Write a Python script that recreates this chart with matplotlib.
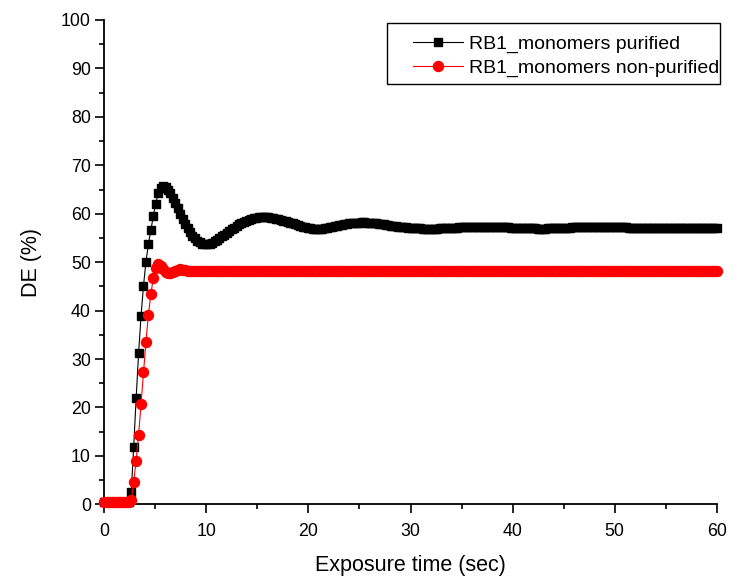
import numpy as np
import matplotlib
matplotlib.use("Agg")
import matplotlib.pyplot as plt
from matplotlib.ticker import MultipleLocator
from matplotlib.patches import Rectangle

plt.rcParams['font.family'] = ['Liberation Sans', 'DejaVu Sans']

time_step = 0.24  # seconds between samples

purified = [
    0.5, 0.5, 0.5, 0.5, 0.5, 0.5, 0.5, 0.5, 0.5, 0.5, 0.5,
    2.6,
    11.9, 21.9, 31.2, 38.9, 45.1, 50.1, 53.7, 56.6, 59.5, 62.1,
    64.2, 65.4, 65.8, 65.6, 65.0, 64.2, 63.3, 62.2, 61.1, 60.0,
    58.9, 57.9, 57.0, 56.2, 55.5, 54.9, 54.4, 54.1, 53.8, 53.7,
    53.7, 53.8, 54.0, 54.3, 54.6, 54.9, 55.3, 55.6, 56.0, 56.4,
    56.8, 57.1, 57.5, 57.8, 58.1, 58.3, 58.6, 58.8, 59.0, 59.1,
    59.2, 59.3, 59.3, 59.4, 59.3, 59.3, 59.2, 59.1, 59.0, 58.9,
    58.8, 58.6, 58.5, 58.3, 58.1, 58.0, 57.8, 57.6, 57.5, 57.3,
    57.2, 57.1, 57.0, 56.9, 56.9, 56.9, 56.9, 56.9, 57.0, 57.1,
    57.2, 57.3, 57.4, 57.5, 57.6, 57.7, 57.8, 57.9, 58.0, 58.0,
    58.1, 58.1, 58.1, 58.2, 58.2, 58.1, 58.1, 58.1, 58.0, 58.0,
    57.9, 57.8, 57.8, 57.7, 57.6, 57.5, 57.5, 57.4, 57.3, 57.3,
    57.2, 57.2, 57.1, 57.1, 57.0, 57.0, 57.0, 57.0, 56.9, 56.9,
    56.9, 56.9, 56.9, 56.9, 56.9, 57.0, 57.0, 57.0, 57.0, 57.1,
    57.1, 57.1, 57.1, 57.2, 57.2, 57.2, 57.2, 57.2, 57.3, 57.3,
    57.3, 57.3, 57.3, 57.3, 57.3, 57.3, 57.3, 57.3, 57.3, 57.2,
    57.2, 57.2, 57.2, 57.2, 57.1, 57.1, 57.1, 57.1, 57.0, 57.0,
    57.0, 57.0, 57.0, 57.0, 57.0, 56.9, 56.9, 56.9, 56.9, 57.0,
    57.0, 57.0, 57.0, 57.0, 57.1, 57.1, 57.1, 57.1, 57.1, 57.2,
    57.2, 57.2, 57.2, 57.2, 57.2, 57.3, 57.3, 57.3, 57.3, 57.3,
    57.3, 57.3, 57.3, 57.3, 57.3, 57.3, 57.2, 57.2, 57.2, 57.2,
    57.2, 57.2, 57.1, 57.1, 57.1, 57.1, 57.1, 57.1, 57.1, 57.1,
    57.1, 57.1, 57.1, 57.1, 57.1, 57.1, 57.1, 57.1, 57.1, 57.1,
    57.1, 57.1, 57.1, 57.1, 57.1, 57.1, 57.1, 57.1, 57.1, 57.1,
    57.1, 57.1, 57.1, 57.1, 57.1, 57.1, 57.1, 57.1, 57.1,
]

non_purified = [
    0.5, 0.5, 0.5, 0.5, 0.5, 0.5, 0.5, 0.5, 0.5, 0.5, 0.5,   # 0-10
    0.9,                                                      # 11
    4.7, 9.0, 14.4, 20.7, 27.3, 33.6, 39.1, 43.4, 46.7, 48.8, # 12-21
    49.6, 49.3, 48.6, 48.0, 47.7, 47.7, 47.9, 48.2, 48.4, 48.5, # 22-31
    48.4, 48.3, 48.2, 48.1, 48.1, 48.2, 48.2, 48.2, 48.2, 48.2, # 32-41
    48.2, 48.2, 48.2, 48.2, 48.2, 48.2, 48.2, 48.2, 48.2, 48.2, # 42-51
    48.2, 48.2, 48.2, 48.2, 48.2, 48.2, 48.2, 48.2, 48.2, 48.2, # 52-61
    48.2, 48.2, 48.2, 48.2, 48.2, 48.2, 48.2, 48.2, 48.2, 48.2, # 62-71
    48.2, 48.2, 48.2, 48.2, 48.2, 48.2, 48.2, 48.2, 48.2, 48.2, # 72-81
    48.2, 48.2, 48.2, 48.2, 48.2, 48.2, 48.2, 48.2, 48.2, 48.2, # 82-91
    48.2, 48.2, 48.2, 48.2, 48.2, 48.2, 48.2, 48.2, 48.2, 48.2, # 92-101
    48.2, 48.2, 48.2, 48.2, 48.2, 48.2, 48.2, 48.2, 48.2, 48.2, # 102-111
    48.2, 48.2, 48.2, 48.2, 48.2, 48.2, 48.2, 48.2, 48.2, 48.2, # 112-121
    48.2, 48.2, 48.2, 48.2, 48.2, 48.2, 48.2, 48.2, 48.2, 48.2, # 122-131
    48.2, 48.2, 48.2, 48.2, 48.2, 48.2, 48.2, 48.2, 48.2, 48.2, # 132-141
    48.2, 48.2, 48.2, 48.2, 48.2, 48.2, 48.2, 48.2, 48.2, 48.2, # 142-151
    48.2, 48.2, 48.2, 48.2, 48.2, 48.2, 48.2, 48.2, 48.2, 48.2, # 152-161
    48.2, 48.2, 48.2, 48.2, 48.2, 48.2, 48.2, 48.2, 48.2, 48.2, # 162-171
    48.2, 48.2, 48.2, 48.2, 48.2, 48.2, 48.2, 48.2, 48.2, 48.2, # 172-181
    48.2, 48.2, 48.2, 48.2, 48.2, 48.2, 48.2, 48.2, 48.2, 48.2, # 182-191
    48.2, 48.2, 48.2, 48.2, 48.2, 48.2, 48.2, 48.2, 48.2, 48.2, # 192-201
    48.2, 48.2, 48.2, 48.2, 48.2, 48.2, 48.2, 48.2, 48.2, 48.2, # 202-211
    48.2, 48.2, 48.2, 48.2, 48.2, 48.2, 48.2, 48.2, 48.2, 48.2, # 212-221
    48.2, 48.2, 48.2, 48.2, 48.2, 48.2, 48.2, 48.2, 48.2, 48.2, # 222-231
    48.2, 48.2, 48.2, 48.2, 48.2, 48.2, 48.2, 48.2, 48.2, 48.2, # 232-241
    48.2, 48.2, 48.2, 48.2, 48.2, 48.2, 48.2, 48.2, 48.2,       # 242-250
]

series_labels = ["RB1_monomers purified", "RB1_monomers non-purified"]
x_label = "Exposure time (sec)"
y_label = "DE (%)"

t_pur = np.arange(len(purified)) * time_step
t_non = np.arange(len(non_purified)) * time_step

W, H = 742, 581
fig = plt.figure(figsize=(W / 100, H / 100), dpi=100)
ax = fig.add_axes([104.3 / W, 1 - 504.3 / H, (716.7 - 104.3) / W, (504.3 - 20) / H])

ax.plot(t_pur, purified, color='black', lw=0.8, marker='s', ms=6.0,
        mec='black', mfc='black', label=series_labels[0], clip_on=False, zorder=3)
ax.plot(t_non, non_purified, color='red', lw=0.8, marker='o', ms=7.2,
        mec='red', mfc='red', label=series_labels[1], clip_on=False, zorder=4)

ax.set_xlim(0, 60)
ax.set_ylim(0, 100)
ax.xaxis.set_major_locator(MultipleLocator(10))
ax.xaxis.set_minor_locator(MultipleLocator(5))
ax.yaxis.set_major_locator(MultipleLocator(10))
ax.yaxis.set_minor_locator(MultipleLocator(5))

for s in ['top', 'right']:
    ax.spines[s].set_visible(False)
for s in ['left', 'bottom']:
    ax.spines[s].set_linewidth(1.3)

ax.tick_params(which='major', direction='out', length=6.2, width=1.2, labelsize=12.8)
ax.tick_params(axis='x', which='major', pad=7)
ax.tick_params(axis='y', which='major', pad=3.5)
ax.tick_params(which='minor', direction='out', length=3.4, width=1.2)

ax.set_xlabel(x_label, fontsize=15.5, labelpad=11)
ax.set_ylabel(y_label, fontsize=15.5, labelpad=14)

# legend frame
fig.patches.append(Rectangle((387 / W, 1 - 84 / H), (720 - 387) / W, (84 - 23) / H,
                             transform=fig.transFigure, fill=True, facecolor='white',
                             edgecolor='black', lw=1.0, zorder=5))
leg = fig.legend(*ax.get_legend_handles_labels(), loc='upper left',
                 bbox_to_anchor=(413 / W, 1 - 35.5 / H),
                 bbox_transform=fig.transFigure, fontsize=14, frameon=False,
                 handlelength=2.55, handletextpad=0.35, borderpad=0,
                 labelspacing=0.32, borderaxespad=0)
leg.set_zorder(6)

fig.savefig("out.png", dpi=100)
